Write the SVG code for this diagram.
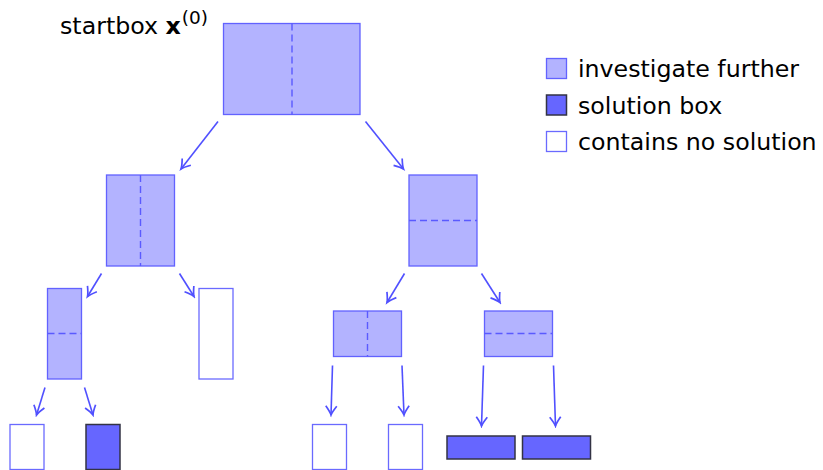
<svg xmlns="http://www.w3.org/2000/svg" width="823" height="470" viewBox="0 0 823 470">
<style>
.inv{fill:#b3b3ff;stroke:#6262ff;stroke-width:1.3}
.sol{fill:#6666ff;stroke:#333344;stroke-width:1.5}
.no{fill:#ffffff;stroke:#6a6aff;stroke-width:1.3}
.dash{stroke:#5a5aff;stroke-width:1.4;stroke-dasharray:7 4;fill:none}
.arr{stroke:#5050ff;stroke-width:1.6;fill:none;marker-end:url(#ah)}
text{font-family:"DejaVu Sans","Liberation Sans",sans-serif;fill:#000}
.t{font-size:23.7px}
</style>
<defs>
<marker id="ah" markerUnits="userSpaceOnUse" markerWidth="14" markerHeight="14" viewBox="-11 -7 13 14" refX="0" refY="0" orient="auto">
<path d="M-9,-5.5 Q-3,-1 0,0 Q-3,1 -9,5.5" fill="none" stroke="#5050ff" stroke-width="1.7"/>
</marker>
</defs>
<rect width="823" height="470" fill="#ffffff"/>
<g id="label">
<text class="t" x="60" y="33.5">startbox <tspan font-weight="bold">x</tspan><tspan font-size="18.5" dx="1" dy="-10">(0)</tspan></text>
</g>
<g id="legend">
<rect class="inv" x="546.5" y="58.5" width="20" height="20"/>
<text class="t" x="578" y="77">investigate further</text>
<rect class="sol" x="546.5" y="95" width="20" height="20"/>
<text class="t" x="578" y="113.5">solution box</text>
<rect class="no" x="546.5" y="131.5" width="20" height="20"/>
<text class="t" x="578" y="150">contains no solution</text>
</g>
<g id="n0">
<rect class="inv" x="223.5" y="23.5" width="136.5" height="91"/>
<line class="dash" x1="292" y1="23.5" x2="292" y2="114.5"/>
</g>
<g id="n1">
<rect class="inv" x="106.5" y="175" width="68" height="91"/>
<line class="dash" x1="140.5" y1="175" x2="140.5" y2="266"/>
</g>
<g id="n2">
<rect class="inv" x="409" y="175" width="68" height="91"/>
<line class="dash" x1="409" y1="220.5" x2="477" y2="220.5"/>
</g>
<g id="n3">
<rect class="inv" x="47.5" y="288.5" width="34" height="90.5"/>
<line class="dash" x1="47.5" y1="333.5" x2="81.5" y2="333.5"/>
</g>
<g id="n4">
<rect class="no" x="199" y="288.5" width="34" height="90.5"/>
</g>
<g id="n5">
<rect class="inv" x="333.5" y="311" width="68" height="45.5"/>
<line class="dash" x1="367.5" y1="311" x2="367.5" y2="356.5"/>
</g>
<g id="n6">
<rect class="inv" x="484.5" y="311" width="68" height="45.5"/>
<line class="dash" x1="484.5" y1="333.5" x2="552.5" y2="333.5"/>
</g>
<g id="n7"><rect class="no" x="10" y="424.5" width="34" height="45"/></g>
<g id="n8"><rect class="sol" x="86" y="424.5" width="34" height="45"/></g>
<g id="n9"><rect class="no" x="312.5" y="424.5" width="34" height="45"/></g>
<g id="n10"><rect class="no" x="388.5" y="424.5" width="34" height="45"/></g>
<g id="n11"><rect class="sol" x="447" y="436" width="68" height="23"/></g>
<g id="n12"><rect class="sol" x="522.5" y="436" width="68" height="23"/></g>
<g id="connectors">
<line class="arr" x1="218" y1="121.5" x2="181" y2="169"/>
<line class="arr" x1="365.5" y1="121.5" x2="403.5" y2="169"/>
<line class="arr" x1="101.5" y1="273.5" x2="87.5" y2="296.5"/>
<line class="arr" x1="179.5" y1="273.5" x2="194" y2="296.5"/>
<line class="arr" x1="404.5" y1="273.5" x2="387" y2="302.5"/>
<line class="arr" x1="481.5" y1="273.5" x2="500" y2="302.5"/>
<line class="arr" x1="45" y1="387.5" x2="36.5" y2="415"/>
<line class="arr" x1="84.5" y1="387.5" x2="93" y2="415"/>
<line class="arr" x1="332.5" y1="365.5" x2="331" y2="415"/>
<line class="arr" x1="402" y1="365.5" x2="404" y2="415"/>
<line class="arr" x1="483.5" y1="365.5" x2="481.5" y2="426"/>
<line class="arr" x1="553.5" y1="365.5" x2="555.5" y2="426"/>
</g>
</svg>
